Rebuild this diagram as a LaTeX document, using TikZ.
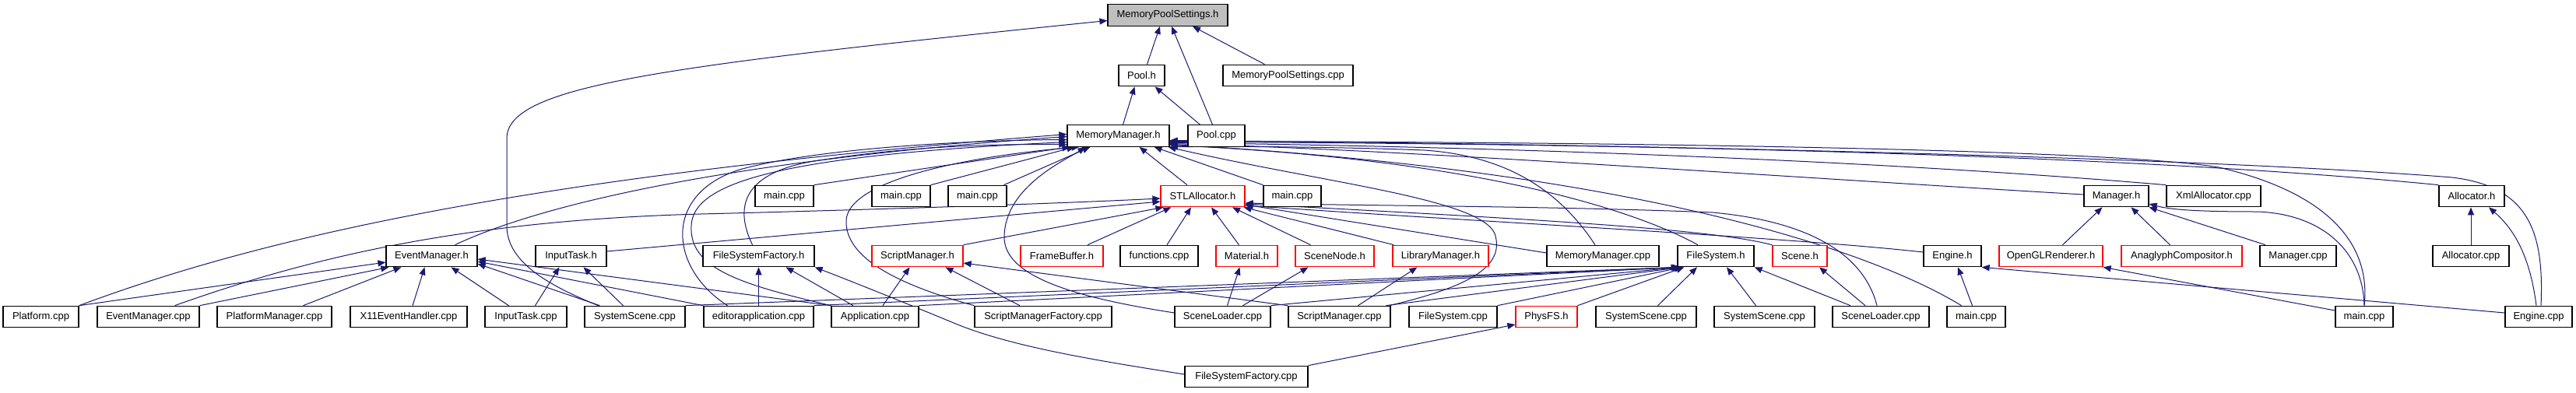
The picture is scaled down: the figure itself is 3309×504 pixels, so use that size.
\documentclass[tikz,border=0pt]{standalone}
\usepackage{fontspec}
\setmainfont{Liberation Sans}
\usetikzlibrary{arrows.meta}
\newcommand\nodefont{\fontsize{13}{15}\selectfont}
\definecolor{edgec}{HTML}{191970}
\definecolor{hdgray}{HTML}{BFBFBF}
\pgfdeclarelayer{bg}
\pgfsetlayers{bg,main}
\tikzset{
  nb/.style={draw=black, fill=white, line width=1.2pt, minimum height=27.5pt, inner sep=0pt, font=\nodefont, text=black},
  rb/.style={nb, draw=red},
  inc/.style={draw=edgec, line width=1pt, -{Triangle[length=10pt,width=8pt]}}
}
\begin{document}
\begin{tikzpicture}[x=1pt,y=-1pt]
\useasboundingbox (0,0) rectangle (3309,504);
% row 0
\node[nb, fill=hdgray, minimum width=154pt] (mps) at (1500,19.5) {MemoryPoolSettings.h};
% row 1
\node[nb, minimum width=59pt] (poolh) at (1466.5,97) {Pool.h};
\node[nb, minimum width=167pt] (mpscpp) at (1654.5,97) {MemoryPoolSettings.cpp};
% row 2
\node[nb, minimum width=131pt] (mmh) at (1436.5,174.5) {MemoryManager.h};
\node[nb, minimum width=73pt] (poolcpp) at (1562.5,174.5) {Pool.cpp};
% row 3
\node[nb, minimum width=75pt] (main1) at (1007.5,252) {main.cpp};
\node[nb, minimum width=75pt] (main2) at (1157.5,252) {main.cpp};
\node[nb, minimum width=75pt] (main3) at (1255.5,252) {main.cpp};
\node[rb, minimum width=108pt] (stl) at (1545,252) {STLAllocator.h};
\node[nb, minimum width=74pt] (main4) at (1660,252) {main.cpp};
\node[nb, minimum width=83pt] (managerh) at (2718.5,252) {Manager.h};
\node[nb, minimum width=121pt] (xmlalloc) at (2843.5,252) {XmlAllocator.cpp};
\node[nb, minimum width=84pt] (allocatorh) at (3175,252) {Allocator.h};
% row 4
\node[nb, minimum width=117pt] (emh) at (554.5,329) {EventManager.h};
\node[nb, minimum width=91pt] (inputtaskh) at (733.5,329) {InputTask.h};
\node[nb, minimum width=143pt] (fsfh) at (974.5,329) {FileSystemFactory.h};
\node[rb, minimum width=117pt] (smh) at (1178.5,329) {ScriptManager.h};
\node[rb, minimum width=106pt] (framebuffer) at (1364,329) {FrameBuffer.h};
\node[nb, minimum width=100pt] (functions) at (1489,329) {functions.cpp};
\node[rb, minimum width=79pt] (material) at (1601.5,329) {Material.h};
\node[rb, minimum width=101pt] (scenenode) at (1714.5,329) {SceneNode.h};
\node[rb, minimum width=123pt] (libmgr) at (1850.5,329) {LibraryManager.h};
\node[nb, minimum width=144pt] (mmcpp) at (2059,329) {MemoryManager.cpp};
\node[nb, minimum width=98pt] (fsh) at (2204,329) {FileSystem.h};
\node[rb, minimum width=70pt] (sceneh) at (2312,329) {Scene.h};
\node[nb, minimum width=74pt] (engineh) at (2508,329) {Engine.h};
\node[rb, minimum width=133pt] (oglr) at (2634.5,329) {OpenGLRenderer.h};
\node[rb, minimum width=155pt] (anaglyph) at (2802.5,329) {AnaglyphCompositor.h};
\node[nb, minimum width=98pt] (managercpp) at (2952,329) {Manager.cpp};
\node[nb, minimum width=98pt] (alloccpp) at (3174,329) {Allocator.cpp};
% row 5
\node[nb, minimum width=97pt] (platformcpp) at (52.5,407) {Platform.cpp};
\node[nb, minimum width=131pt] (emcpp) at (190.5,407) {EventManager.cpp};
\node[nb, minimum width=147pt] (pmcpp) at (352.5,407) {PlatformManager.cpp};
\node[nb, minimum width=150pt] (x11) at (525,407) {X11EventHandler.cpp};
\node[nb, minimum width=105pt] (itcpp) at (675.5,407) {InputTask.cpp};
\node[nb, minimum width=129pt] (ss1) at (815.5,407) {SystemScene.cpp};
\node[nb, minimum width=141pt] (editorapp) at (974.5,407) {editorapplication.cpp};
\node[nb, minimum width=112pt] (appcpp) at (1124,407) {Application.cpp};
\node[nb, minimum width=176pt] (smfcpp) at (1340,407) {ScriptManagerFactory.cpp};
\node[nb, minimum width=123pt] (sl1) at (1570.5,407) {SceneLoader.cpp};
\node[nb, minimum width=131pt] (smcpp) at (1720.5,407) {ScriptManager.cpp};
\node[nb, minimum width=113pt] (fscpp) at (1866.5,407) {FileSystem.cpp};
\node[rb, minimum width=79pt] (physfs) at (1986.5,407) {PhysFS.h};
\node[nb, minimum width=129pt] (ss2) at (2114.5,407) {SystemScene.cpp};
\node[nb, minimum width=129pt] (ss3) at (2266.5,407) {SystemScene.cpp};
\node[nb, minimum width=124pt] (sl2) at (2416,407) {SceneLoader.cpp};
\node[nb, minimum width=75pt] (main5) at (2538.5,407) {main.cpp};
\node[nb, minimum width=74pt] (main6) at (3037,407) {main.cpp};
\node[nb, minimum width=86pt] (enginecpp) at (3261,407) {Engine.cpp};
% row 6
\node[nb, minimum width=158pt] (fsfcpp) at (1601,484) {FileSystemFactory.cpp};

\begin{pgfonlayer}{bg}
\fill[white] (0,0) rectangle (3309,504);
% MemoryPoolSettings.h
\draw[inc] ([xshift=7pt]poolh.north) -- ([xshift=-10pt]mps.south);
\draw[inc] ([xshift=-5pt]poolcpp.north) -- ([xshift=5pt]mps.south);
\draw[inc] ([xshift=-30pt]mpscpp.north) -- ([xshift=32pt]mps.south);
\draw[inc] ([xshift=-47pt]ss1.north) .. controls (700,365) and (651,335) .. (651,290) -- (651,178) .. controls (651,110) and (850,85) .. ([yshift=-7pt]mps.west);
% Pool.h
\draw[inc] ([xshift=6pt]mmh.north) -- ([xshift=-9pt]poolh.south);
\draw[inc] ([xshift=-21pt]poolcpp.north) -- ([xshift=17pt]poolh.south);
% MemoryManager.h
\draw[inc] (platformcpp.north east) .. controls (350,300) and (700,225) .. ([yshift=2pt]mmh.west);
\draw[inc] ([xshift=30pt]emh.north) .. controls (700,260) and (950,205) .. ([yshift=-1pt]mmh.west);
\draw[inc] ([xshift=-40pt]editorapp.north) .. controls (860,345) and (850,250) .. (950,218) .. controls (1050,190) and (1250,180) .. ([yshift=-5pt]mmh.west);
\draw[inc] (appcpp.north west) .. controls (950,365) and (885,345) .. (888,290) .. controls (890,235) and (1000,200) .. ([yshift=-8pt]mmh.west);
\draw[inc] ([xshift=-8pt]fsfh.north) .. controls (945,270) and (950,225) .. (1040,208) .. controls (1150,190) and (1250,185) .. ([yshift=-11pt]mmh.west);
\draw[inc] (main1.north east) -- ([xshift=4pt]mmh.south west);
\draw[inc] (main2.north east) -- ([xshift=10pt]mmh.south west);
\draw[inc] ([xshift=34pt]main3.north) -- ([xshift=30pt]mmh.south west);
\draw[inc] (smfcpp.north west) .. controls (1150,365) and (1085,330) .. (1087,283) .. controls (1090,230) and (1250,200) .. ([xshift=16pt]mmh.south west);
\draw[inc] ([yshift=5pt]sl1.west) .. controls (1400,385) and (1290,360) .. (1290,305) .. controls (1290,240) and (1370,205) .. ([xshift=24pt]mmh.south west);
\draw[inc] ([xshift=-20pt]stl.north) -- ([xshift=27pt]mmh.south);
\draw[inc] (main4.north west) -- ([xshift=46pt]mmh.south);
\draw[inc] ([xshift=-2pt]smcpp.north east) .. controls (1880,370) and (1935,345) .. (1920,300) .. controls (1900,255) and (1700,235) .. ([xshift=-2pt]mmh.south east);
\draw[inc] ([xshift=-10pt]mmcpp.north) .. controls (2000,240) and (1930,200) .. (1830,193) .. controls (1700,188) and (1560,188) .. (mmh.south east);
\draw[inc] ([xshift=-23pt]fsh.north) .. controls (2100,270) and (1900,205) .. ([yshift=-12pt]mmh.east);
\draw[inc] ([xshift=-19pt]main5.north) .. controls (2400,320) and (2100,220) .. ([yshift=-11pt]mmh.east);
\draw[inc] ([yshift=2pt]managerh.west) .. controls (2300,228) and (1800,192) .. ([yshift=-10pt]mmh.east);
\draw[inc] (xmlalloc.north west) .. controls (2400,205) and (1900,188) .. ([yshift=-9pt]mmh.east);
\draw[inc] (allocatorh.north west) .. controls (2700,195) and (2000,184) .. ([yshift=-8pt]mmh.east);
\draw[inc] (main6.north) .. controls (3045,320) and (3000,250) .. (2850,215) .. controls (2700,190) and (2000,182) .. ([yshift=-7pt]mmh.east);
\draw[inc] ([xshift=3pt]enginecpp.north) .. controls (3268,300) and (3250,240) .. (3150,228) .. controls (2800,200) and (2000,184) .. ([yshift=-6pt]mmh.east);
% STLAllocator.h
\draw[inc] ([xshift=34pt]emcpp.north) .. controls (400,330) and (600,283) .. (900,275) .. controls (1100,270) and (1350,262) .. ([yshift=-3pt]stl.west);
\draw[inc] ([yshift=6pt]inputtaskh.east) -- ([yshift=-7pt]stl.west);
\draw[inc] (smh.north east) -- ([xshift=4pt]stl.south west);
\draw[inc] ([xshift=33pt]framebuffer.north) -- ([xshift=14pt]stl.south west);
\draw[inc] ([xshift=10pt]functions.north) -- ([xshift=-15pt]stl.south);
\draw[inc] ([xshift=-10pt]material.north) -- ([xshift=11pt]stl.south);
\draw[inc] ([xshift=-31pt]scenenode.north) -- ([xshift=38pt]stl.south);
\draw[inc] ([xshift=-60pt]libmgr.north) -- ([xshift=-2pt]stl.south east);
\draw[inc] ([yshift=4pt]mmcpp.west) -- ([yshift=-11pt]stl.east);
\draw[inc] ([xshift=-5pt]sl2.north) .. controls (2395,330) and (2330,285) .. (2200,273) .. controls (2000,265) and (1800,265) .. ([yshift=-9pt]stl.east);
\draw[inc] (sceneh.north west) .. controls (2200,295) and (2000,283) .. ([yshift=-10pt]stl.east);
\draw[inc] ([yshift=5pt]engineh.west) .. controls (2300,305) and (1900,285) .. ([yshift=-12pt]stl.east);
% EventManager.h
\draw[inc] (platformcpp.north east) -- ([yshift=-8pt]emh.west);
\draw[inc] (emcpp.north east) -- ([xshift=4pt]emh.south west);
\draw[inc] ([xshift=37pt]pmcpp.north) -- ([xshift=-39pt]emh.south);
\draw[inc] ([xshift=5pt]x11.north) -- ([xshift=-9pt]emh.south);
\draw[inc] ([xshift=-22pt]itcpp.north) -- ([xshift=25pt]emh.south);
\draw[inc] ([xshift=-45pt]ss1.north) -- ([yshift=-10pt]emh.east);
\draw[inc] (editorapp.north west) -- ([yshift=-7pt]emh.east);
\draw[inc] (appcpp.north west) -- ([yshift=-4pt]emh.east);
% InputTask.h
\draw[inc] ([xshift=12pt]itcpp.north) -- ([xshift=-15pt]inputtaskh.south);
\draw[inc] ([xshift=-15pt]ss1.north) -- ([xshift=16pt]inputtaskh.south);
% FileSystemFactory.h
\draw[inc] (editorapp.north) -- (fsfh.south);
\draw[inc] ([xshift=-28pt]appcpp.north) -- ([xshift=35pt]fsfh.south);
\draw[inc] ([yshift=3pt]fsfcpp.west) .. controls (1400,462) and (1300,445) .. (1230,417) .. controls (1160,388) and (1090,360) .. (fsfh.south east);
% ScriptManager.h
\draw[inc] ([xshift=10pt]appcpp.north) -- ([xshift=-10pt]smh.south);
\draw[inc] ([xshift=-30pt]smfcpp.north) -- ([xshift=36pt]smh.south);
\draw[inc] (smcpp.north west) -- ([yshift=-9pt]smh.east);
% Material.h, SceneNode.h, LibraryManager.h
\draw[inc] ([xshift=6pt]sl1.north) -- ([xshift=-9pt]material.south);
\draw[inc] ([xshift=26pt]sl1.north) -- ([xshift=-34pt]scenenode.south);
\draw[inc] ([xshift=24pt]smcpp.north) -- ([xshift=-30pt]libmgr.south);
% FileSystem.h
\draw[inc] (ss1.north east) -- ([xshift=2pt]fsh.south west);
\draw[inc] (editorapp.north east) -- ([xshift=3pt]fsh.south west);
\draw[inc] (appcpp.north east) -- ([xshift=4pt]fsh.south west);
\draw[inc] (sl1.north east) -- ([xshift=5pt]fsh.south west);
\draw[inc] ([xshift=60pt]smcpp.north) -- ([xshift=6pt]fsh.south west);
\draw[inc] (fscpp.north east) -- ([xshift=7pt]fsh.south west);
\draw[inc] (physfs.north east) -- ([xshift=9pt]fsh.south west);
\draw[inc] ([xshift=15pt]ss2.north) -- ([xshift=-24pt]fsh.south);
\draw[inc] ([xshift=-11pt]ss3.north) -- ([xshift=14pt]fsh.south);
\draw[inc] ([xshift=-39pt]sl2.north) -- (fsh.south east);
% Scene.h, Engine.h, OpenGLRenderer.h
\draw[inc] ([xshift=-20pt]sl2.north) -- ([xshift=25pt]sceneh.south);
\draw[inc] ([xshift=-5pt]main5.north) -- ([xshift=7pt]engineh.south);
\draw[inc] ([yshift=5pt]enginecpp.west) -- (engineh.south east);
\draw[inc] ([yshift=8pt]main6.west) -- (oglr.south east);
% Manager.h
\draw[inc] ([xshift=15pt]oglr.north) -- ([xshift=-18pt]managerh.south);
\draw[inc] ([xshift=-15pt]anaglyph.north) -- ([xshift=19pt]managerh.south);
\draw[inc] ([xshift=-42pt]managercpp.north) -- (managerh.south east);
\draw[inc] (main6.north) .. controls (3035,320) and (2980,275) .. (2900,272) .. controls (2830,272) and (2790,270) .. ([yshift=-10pt]managerh.east);
% Allocator.h
\draw[inc] (alloccpp.north) -- ([xshift=-1pt]allocatorh.south);
\draw[inc] ([xshift=-3pt]enginecpp.north) .. controls (3250,330) and (3230,295) .. ([xshift=22pt]allocatorh.south);
% PhysFS.h
\draw[inc] (fsfcpp.north east) -- ([yshift=-10pt]physfs.west);
\end{pgfonlayer}
\end{tikzpicture}
\end{document}
